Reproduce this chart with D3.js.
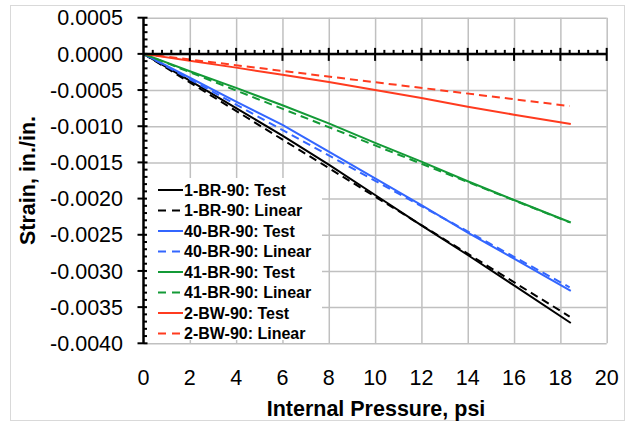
<!DOCTYPE html>
<html>
<head>
<meta charset="utf-8">
<title>Strain vs Internal Pressure</title>
<style>
body { margin: 0; background: #fff; }
text { font-family: "Liberation Sans", Arial, sans-serif; fill: #000; }
.grid line { stroke: #c0c0c0; stroke-width: 1.5px; }
.grid path { display: none; }
</style>
</head>
<body>
<script src="https://cdn.jsdelivr.net/npm/d3@7"></script>
<script>

// data
var testPressure = [0, 2, 4, 6, 8, 10, 12, 14, 16, 18.45];
var br1Test  = [0, -0.00037, -0.00075, -0.00113, -0.00153, -0.00195, -0.00237, -0.00278, -0.00320, -0.00372];
var br40Test = [0, -0.00033, -0.00066, -0.00098, -0.00135, -0.00172, -0.00209, -0.00247, -0.00283, -0.003275];
var br41Test = [0, -0.00024, -0.00047, -0.00071, -0.00096, -0.00123, -0.00149, -0.00176, -0.00202, -0.00233];
var bw2Test  = [0, -0.000095, -0.00019, -0.00029, -0.00039, -0.00050, -0.00061, -0.00073, -0.00084, -0.00097];

var linearPressure = [0, 18.4];
var br1Linear  = [0, -0.00363];
var br40Linear = [0, -0.003226];
var br41Linear = [0, -0.002328];
var bw2Linear  = [0, -0.000721];

var seriesNames = ["1-BR-90: Test", "1-BR-90: Linear", "40-BR-90: Test", "40-BR-90: Linear",
                   "41-BR-90: Test", "41-BR-90: Linear", "2-BW-90: Test", "2-BW-90: Linear"];

var xTicks = [0, 2, 4, 6, 8, 10, 12, 14, 16, 18, 20];
var yTicks = [0.0005, 0, -0.0005, -0.001, -0.0015, -0.002, -0.0025, -0.003, -0.0035, -0.004];

var black = "#000000", blue = "#3366ff", green = "#139a36", red = "#ff3b1f";

var series = [
  {name: seriesNames[0], color: black, dash: false, p: testPressure,   s: br1Test},
  {name: seriesNames[1], color: black, dash: true,  p: linearPressure, s: br1Linear},
  {name: seriesNames[2], color: blue,  dash: false, p: testPressure,   s: br40Test},
  {name: seriesNames[3], color: blue,  dash: true,  p: linearPressure, s: br40Linear},
  {name: seriesNames[4], color: green, dash: false, p: testPressure,   s: br41Test},
  {name: seriesNames[5], color: green, dash: true,  p: linearPressure, s: br41Linear},
  {name: seriesNames[6], color: red,   dash: false, p: testPressure,   s: bw2Test},
  {name: seriesNames[7], color: red,   dash: true,  p: linearPressure, s: bw2Linear}
];

var width = 631, height = 423;

var svg = d3.select("body").append("svg")
    .attr("width", width)
    .attr("height", height);

// outer frame
svg.append("rect")
    .attr("x", 10.5).attr("y", 5.5)
    .attr("width", 614).attr("height", 415)
    .attr("fill", "#fff")
    .attr("stroke", "#d9d9d9");

var x = d3.scaleLinear().domain([0, 20]).range([143.5, 606.7]);
var y = d3.scaleLinear().domain([0.0005, -0.004]).range([17.7, 343.3]);

// gridlines
svg.append("g")
    .attr("class", "grid")
    .attr("transform", "translate(0," + y(-0.004) + ")")
    .call(d3.axisBottom(x).tickValues(xTicks.slice(1)).tickSize(-(y(-0.004) - y(0.0005))).tickFormat(""));

svg.append("g")
    .attr("class", "grid")
    .attr("transform", "translate(" + x(0) + ",0)")
    .call(d3.axisLeft(y).tickValues(yTicks).tickSize(-(x(20) - x(0))).tickFormat(""));

// data lines
var line = d3.line()
    .x(function(d) { return x(d[0]); })
    .y(function(d) { return y(d[1]); });

series.forEach(function(sr) {
  var pts = sr.p.map(function(p, i) { return [p, sr.s[i]]; });
  svg.append("path")
      .datum(pts)
      .attr("d", line)
      .attr("fill", "none")
      .attr("stroke", sr.color)
      .attr("stroke-width", 2)
      .attr("stroke-dasharray", sr.dash ? "8,5" : null);
});

// axes through the origin
var axes = svg.append("g").attr("stroke", "#000");

axes.append("line")
    .attr("x1", x(0)).attr("x2", x(20))
    .attr("y1", y(0)).attr("y2", y(0))
    .attr("stroke-width", 2.5);

axes.append("line")
    .attr("x1", x(0)).attr("x2", x(0))
    .attr("y1", y(0.0005)).attr("y2", y(-0.004))
    .attr("stroke-width", 2.5);

var xMinor = d3.range(0, 20.01, 0.4).filter(function(v) { return Math.abs(v / 2 - Math.round(v / 2)) > 1e-6; });
var yMinor = d3.range(-40, 6, 1).map(function(v) { return v / 10000; })
    .filter(function(v) { return Math.abs(v / 0.0005 - Math.round(v / 0.0005)) > 1e-6; });

axes.selectAll(".xmajor").data(xTicks.slice(1)).enter().append("line")
    .attr("x1", function(d) { return x(d); }).attr("x2", function(d) { return x(d); })
    .attr("y1", y(0) - 6).attr("y2", y(0) + 7)
    .attr("stroke-width", 2);

axes.selectAll(".xminor").data(xMinor).enter().append("line")
    .attr("x1", function(d) { return x(d); }).attr("x2", function(d) { return x(d); })
    .attr("y1", y(0) - 4).attr("y2", y(0))
    .attr("stroke-width", 2);

axes.selectAll(".ymajor").data(yTicks).enter().append("line")
    .attr("x1", x(0) - 6).attr("x2", x(0) + 4)
    .attr("y1", function(d) { return y(d); }).attr("y2", function(d) { return y(d); })
    .attr("stroke-width", 2);

axes.selectAll(".yminor").data(yMinor).enter().append("line")
    .attr("x1", x(0)).attr("x2", x(0) + 4)
    .attr("y1", function(d) { return y(d); }).attr("y2", function(d) { return y(d); })
    .attr("stroke-width", 2);

// tick labels
svg.selectAll(".ylab").data(yTicks).enter().append("text")
    .attr("x", 123)
    .attr("y", function(d) { return y(d) + 7.7; })
    .attr("text-anchor", "end")
    .style("font-size", "21.5px")
    .text(function(d) { return d3.format(".4f")(d).replace("−", "-"); });

svg.selectAll(".xlab").data(xTicks).enter().append("text")
    .attr("x", function(d) { return x(d); })
    .attr("y", 385)
    .attr("text-anchor", "middle")
    .style("font-size", "21.5px")
    .text(function(d) { return d; });

// axis titles
svg.append("text")
    .attr("x", 376).attr("y", 416)
    .attr("text-anchor", "middle")
    .style("font-size", "21.5px")
    .style("font-weight", "bold")
    .text("Internal Pressure, psi");

svg.append("text")
    .attr("transform", "translate(35," + ((y(0.0005) + y(-0.004)) / 2) + ") rotate(-90)")
    .attr("text-anchor", "middle")
    .style("font-size", "21.5px")
    .style("font-weight", "bold")
    .text("Strain, in./in.");

// legend
var legend = svg.append("g");
legend.append("rect")
    .attr("x", 147).attr("y", 178)
    .attr("width", 175).attr("height", 162)
    .attr("fill", "#fff");

var rows = legend.selectAll(".row").data(series).enter().append("g")
    .attr("transform", function(d, i) { return "translate(0," + (190 + i * 20.5) + ")"; });

rows.append("line")
    .attr("x1", 158).attr("x2", 183)
    .attr("y1", 0).attr("y2", 0)
    .attr("stroke", function(d) { return d.color; })
    .attr("stroke-width", 2)
    .attr("stroke-dasharray", function(d) { return d.dash ? "8,6" : null; });

rows.append("text")
    .attr("x", 184)
    .attr("y", 5.8)
    .style("font-size", "16px")
    .style("font-weight", "bold")
    .text(function(d) { return d.name; });

</script>
</body>
</html>
